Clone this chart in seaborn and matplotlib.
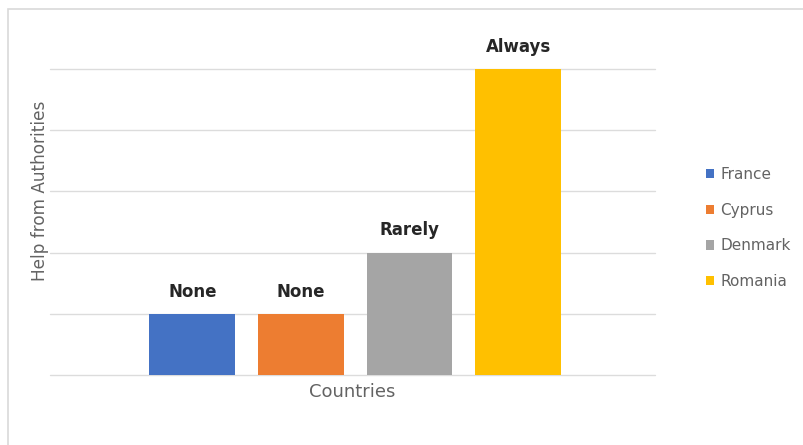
import matplotlib
matplotlib.use("Agg")
import matplotlib.pyplot as plt
import seaborn as sns
import pandas as pd
from matplotlib.patches import Rectangle, Patch

# Help received from the authorities, per country (0 = none ... 5 = always)
countries = ["France", "Cyprus", "Denmark", "Romania"]
help_level = [1, 1, 2, 5]
help_labels = ["None", "None", "Rarely", "Always"]
colors = ["#4472c4", "#ed7d31", "#a5a5a5", "#ffc000"]

df = pd.DataFrame({"country": countries, "level": help_level})

sns.set_theme(style="white")
plt.rcParams["font.family"] = ["DejaVu Sans"]

W, H = 804, 445
fig = plt.figure(figsize=(W / 100, H / 100), dpi=100)
fig.patch.set_facecolor("white")

# chart frame
fig.patches.append(Rectangle((8 / W, -0.01), 1.0, (H - 8.5) / H + 0.01,
                             transform=fig.transFigure, fill=False,
                             edgecolor="#d9d9d9", linewidth=1.2))

ax = fig.add_axes([50 / W, (H - 375) / H, 605 / W, 306 / H])
sns.barplot(data=df, x="country", y="level", hue="country",
            palette=colors, order=countries, hue_order=countries,
            width=0.79, dodge=False, legend=False, saturation=1,
            linewidth=0, ax=ax)

ax.set_xlim(-1.31, 3 + 1.26)
ax.set_ylim(0, 5)
ax.set_yticks(range(0, 6))
ax.yaxis.grid(True, color="#dcdcdc", linewidth=1.0)
ax.set_axisbelow(True)
for gl in ax.get_ygridlines():
    gl.set_clip_on(False)
ax.set_xticks([])
ax.set_yticklabels([])
ax.tick_params(left=False, bottom=False)
for s in ax.spines.values():
    s.set_visible(False)

for i, (v, lab) in enumerate(zip(help_level, help_labels)):
    ax.annotate(lab, (i, v), xytext=(0, 9.5), textcoords="offset points",
                ha="center", va="bottom", fontsize=12, fontweight="bold",
                color="#262626", annotation_clip=False)

ax.set_xlabel("")
ax.set_ylabel("")
fig.text(352 / W, 1 - 392 / H, "Countries", ha="center", va="center",
         fontsize=13, color="#636363")
fig.text(40 / W, 1 - 191 / H, "Help from Authorities", ha="center",
         va="center", rotation=90, fontsize=12.2, color="#636363")

handles = [Patch(facecolor=c, edgecolor="none") for c in colors]
fig.legend(handles, countries, loc="center left",
           bbox_to_anchor=(692 / W, 1 - 228 / H), frameon=False,
           fontsize=11, labelcolor="#636363", handlelength=0.55,
           handleheight=0.55, handletextpad=0.4, labelspacing=1.35)

fig.savefig("out.png", dpi=100, facecolor="white")
